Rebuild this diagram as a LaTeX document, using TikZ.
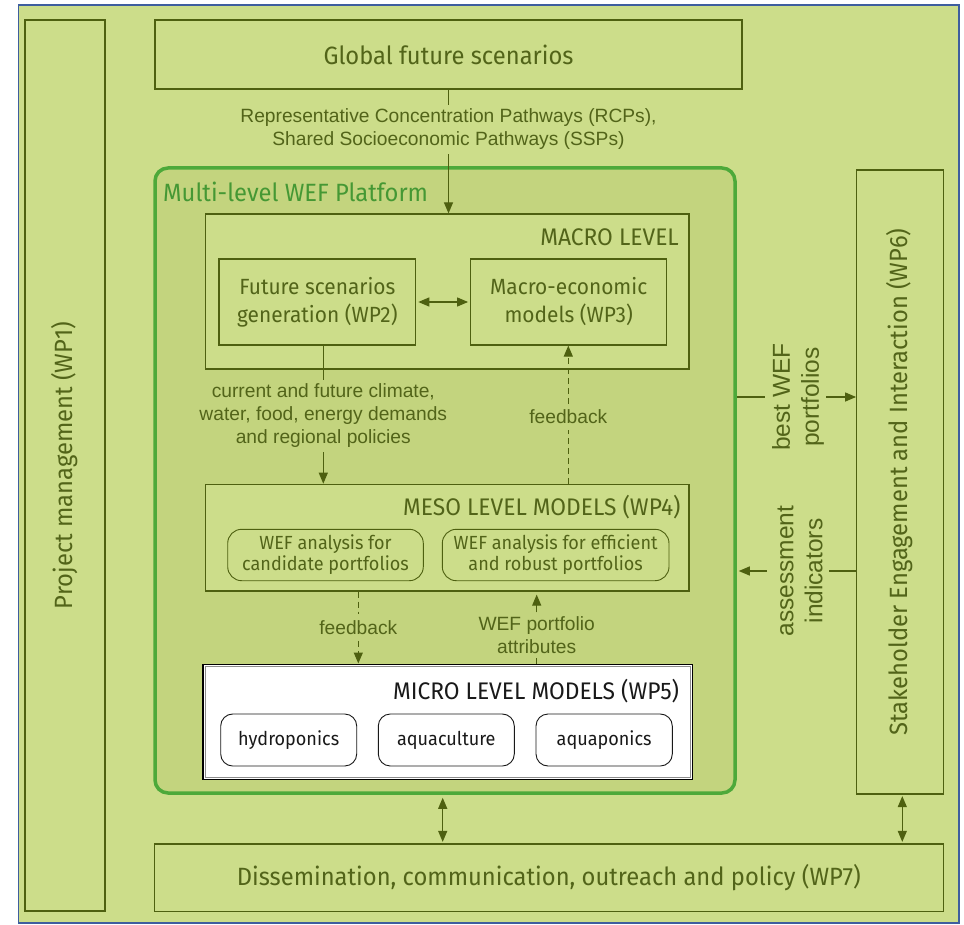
\documentclass[tikz,border=0pt]{standalone}
\usepackage{fontspec}
\usetikzlibrary{arrows.meta,calc}
\newfontfamily\dinfont[FakeStretch=0.95]{Fira Sans}
\newfontfamily\lblfont{Liberation Sans}
\definecolor{bgc}{HTML}{CCDD8A}
\definecolor{platc}{HTML}{C3D47E}
\definecolor{olive}{HTML}{4E6010}
\definecolor{txt}{HTML}{526419}
\definecolor{grn}{HTML}{4DA93A}
\definecolor{frm}{HTML}{3E5E9E}
\tikzset{
  box/.style={draw=olive, line width=1.2pt, fill=bgc, inner sep=0pt, text=txt,
    font=\dinfont\fontsize{25}{28}\selectfont, align=center},
  inbox/.style={box, font=\dinfont\fontsize{22}{28}\selectfont},
  title/.style={inner sep=0pt, anchor=base east, text=txt,
    font=\dinfont\fontsize{24}{28}\selectfont},
  sidetext/.style={rotate=90, text=txt, inner sep=0pt,
    font=\dinfont\fontsize{25}{28}\selectfont},
  rbox/.style={draw=olive, line width=0.9pt, rounded corners=14pt, inner sep=0pt,
    text=txt, align=center, font=\dinfont\fontsize{19}{21}\selectfont},
  mbox/.style={draw=black!90, line width=0.9pt, rounded corners=12pt, fill=white,
    inner sep=0pt, text=black!90, font=\dinfont\fontsize{19}{22}\selectfont},
  lbl/.style={inner sep=4pt, text=txt, align=center,
    font=\lblfont\fontsize{19.2}{23}\selectfont},
  vlbl/.style={inner sep=4pt, text=txt, align=center, rotate=90,
    font=\lblfont\fontsize{24.5}{29}\selectfont},
  ln/.style={draw=olive, line width=1.2pt},
  arr/.style={ln, -{Triangle[length=11pt,width=9pt]}},
  dblarr/.style={ln, {Triangle[length=11pt,width=9pt]}-{Triangle[length=11pt,width=9pt]}},
  dsh/.style={dash pattern=on 6pt off 4pt}
}
\begin{document}
\begin{tikzpicture}[x=1pt,y=-1pt]
\useasboundingbox (0,0) rectangle (964,925);
% outer frame
\draw[frm, line width=1.5pt, fill=bgc] (18.5,5) rectangle (959,923);

% side and top/bottom boxes
\node[box, minimum width=80pt, minimum height=891pt] (wp1) at (65,465.5) {};
\node[sidetext] (wp1t) at (wp1.center) {Project management (WP1)};
\node[box, minimum width=587pt, minimum height=69pt] (global) at (448.5,54.5) {Global future scenarios};
\node[box, minimum width=86.6pt, minimum height=624pt] (wp6) at (900,482) {};
\node[sidetext] (wp6t) at (wp6.center) {Stakeholder Engagement and Interaction (WP6)};
\node[box, minimum width=789pt, minimum height=67.5pt] (diss) at (548.8,877.75) {Dissemination, communication, outreach and policy (WP7)};

% platform
\node[draw=grn, line width=3.5pt, fill=platc, rounded corners=13pt, inner sep=0pt,
  minimum width=580pt, minimum height=625pt] (plat) at (445,480.5) {};
\node[inner sep=0pt, anchor=base west, text=grn!90!black,
  font=\dinfont\fontsize{25}{28}\selectfont] (platt) at (163,201.7) {Multi-level WEF Platform};

% macro level
\node[box, minimum width=483.5pt, minimum height=155pt] (macro) at (447.25,291.5) {};
\node[title] (macrot) at (679,245.7) {MACRO LEVEL};
\node[inbox, minimum width=196.7pt, minimum height=86pt] (fs) at (317.35,302) {Future scenarios\\generation (WP2)};
\node[inbox, minimum width=196pt, minimum height=86pt] (me) at (568.7,302) {Macro-economic\\models (WP3)};

% meso level
\node[box, minimum width=483.3pt, minimum height=106.7pt] (meso) at (447.35,537.65) {};
\node[title] (mesot) at (680.7,515.7) {MESO LEVEL MODELS (WP4)};
\node[rbox, minimum width=195.6pt, minimum height=51.4pt] (cand) at (325.5,555) {WEF analysis for\\candidate portfolios};
\node[rbox, minimum width=226.7pt, minimum height=51.4pt] (eff) at (555.65,555) {WEF analysis for efficient\\and robust portfolios};

% micro level
\node[draw=black, line width=1.6pt, fill=white, inner sep=0pt,
  minimum width=489.6pt, minimum height=115pt] (micro) at (447.5,721.8) {};
\draw[black!45, line width=0.6pt] ([shift={(3,3)}]micro.north west) rectangle ([shift={(-3,-3)}]micro.south east);
\node[title, text=black!90] (microt) at (679.3,699) {MICRO LEVEL MODELS (WP5)};
\node[mbox, minimum width=136pt, minimum height=52pt] (hydro) at (288.7,740) {hydroponics};
\node[mbox, minimum width=136pt, minimum height=52pt] (aqua) at (446.3,740) {aquaculture};
\node[mbox, minimum width=136.3pt, minimum height=52pt] (aquap) at (604.15,740) {aquaponics};

% connector labels
\node[lbl] (rcp) at (448.5,129.5) {Representative Concentration Pathways (RCPs),\\Shared Socioeconomic Pathways (SSPs)};
\node[lbl] (dem) at (323.3,416) {current and future climate,\\water, food, energy demands\\and regional policies};
\node[lbl, inner sep=6pt] (fb1) at (568.3,417) {feedback};
\node[lbl, inner sep=6pt] (fb2) at (358.3,627.7) {feedback};
\node[lbl] (attr) at (536.7,635) {WEF portfolio\\attributes};
\node[vlbl] (best) at (798,397) {best WEF\\portfolios};
\node[vlbl] (assess) at (800,571) {assessment\\indicators};

% connectors
\draw[ln] (global.south -| rcp) -- (rcp.north);
\draw[arr] (rcp.south) -- (rcp.south |- macro.north);
\draw[dblarr, shorten <=2pt, shorten >=2pt] (fs.east) -- (me.west);
\draw[ln] (dem |- fs.south) -- (dem.north);
\draw[arr] (dem.south) -- (dem.south |- meso.north);
\draw[ln, dsh] (fb1 |- meso.north) -- (fb1.south);
\draw[arr, dsh] (fb1.north) -- (fb1.north |- me.south);
\draw[ln, dsh] (fb2 |- meso.south) -- (fb2.north);
\draw[arr, dsh] (fb2.south) -- (fb2.south |- micro.north);
\draw[ln] (attr |- micro.north) -- (attr.south);
\draw[arr, shorten >=3pt] (attr.north) -- (attr.north |- meso.south);
\draw[ln] (plat.east |- best) -- ($(best)+(-33,0)$);
\draw[arr] ($(best)+(28,0)$) -- (wp6.west |- best);
\draw[ln] (wp6.west |- assess) -- ($(assess)+(29,0)$);
\draw[arr, shorten >=2pt] ($(assess)+(-33,0)$) -- (plat.east |- assess);
\draw[dblarr, shorten <=3pt, shorten >=1.5pt] ([xshift=-2.3pt]plat.south) -- ([xshift=-2.3pt]plat.south |- diss.north);
\draw[dblarr, shorten <=1.5pt, shorten >=1.5pt] ([xshift=2.3pt]wp6.south) -- ([xshift=2.3pt]wp6.south |- diss.north);
\end{tikzpicture}
\end{document}
